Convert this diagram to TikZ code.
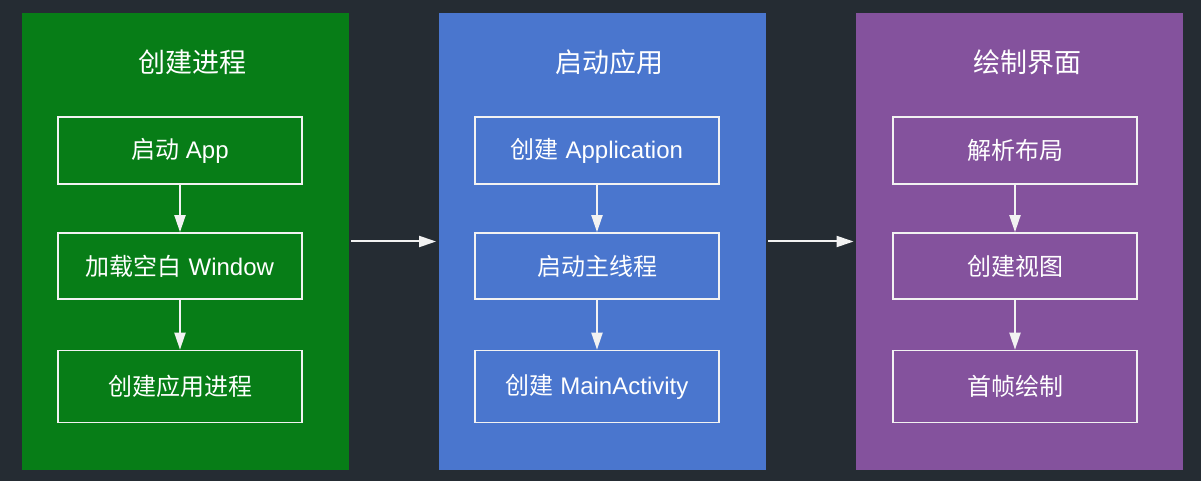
\documentclass[tikz,border=0pt]{standalone}
\usepackage{fontspec}
\setmainfont{Liberation Sans}
\newfontfamily\cjk{Noto Sans CJK SC}
\usetikzlibrary{arrows.meta,positioning}
\definecolor{boot_bg}{HTML}{252C33}
\definecolor{boot_green}{HTML}{077D17}
\definecolor{boot_blue}{HTML}{4A76CE}
\definecolor{boot_purple}{HTML}{84529D}
\definecolor{boot_line}{HTML}{F2F2F2}
\tikzset{
  panel/.style={minimum width=163.5pt, minimum height=228.5pt, inner sep=0pt},
  title/.style={text=white, font=\fontsize{13.5}{16}\selectfont},
  stepbox/.style={draw=boot_line, line width=0.8pt, minimum width=122pt,
                  inner sep=0pt, text=white, font=\fontsize{12}{14}\selectfont},
  flow/.style={-{Triangle[width=5.5pt,length=8.5pt]}, draw=boot_line, line width=1pt}
}
\begin{document}
\begin{tikzpicture}[x=0.5pt, y=-0.5pt]
        \fill[boot_bg] (0,0) rectangle (1201,481);
        \useasboundingbox (0,0) rectangle (1201,481);
        % three stages
        \node[panel, fill=boot_green] (create) at (185,241.5) {};
        \node[panel, fill=boot_blue] (launch) at (602,241.5) {};
        \node[panel, fill=boot_purple] (render) at (1019.5,241.5) {};
        \node[title] (createT) at (192,62) {\cjk 创建进程};
        \node[title] (launchT) at (609,62) {\cjk 启动应用};
        \node[title] (renderT) at (1027,62) {\cjk 绘制界面};
        % create process
        \node[stepbox, minimum height=33.5pt] (app) at (180,150.5) {{\cjk 启动} App};
        \node[stepbox, minimum height=33pt] (window) at (180,266) {{\cjk 加载空白} Window};
        \node[stepbox, minimum height=36pt] (proc) at (180,386.5) {\cjk 创建应用进程};
        % launch application
        \node[stepbox, minimum height=33.5pt] (application) at (597,150.5) {{\cjk 创建} Application};
        \node[stepbox, minimum height=33pt] (mainthread) at (597,266) {\cjk 启动主线程};
        \node[stepbox, minimum height=36pt] (activity) at (597,386.5) {{\cjk 创建} MainActivity};
        % draw ui
        \node[stepbox, minimum height=33.5pt] (layout) at (1015,150.5) {\cjk 解析布局};
        \node[stepbox, minimum height=33pt] (views) at (1015,266) {\cjk 创建视图};
        \node[stepbox, minimum height=36pt] (frame) at (1015,386.5) {\cjk 首帧绘制};
        \draw[flow] (app) -- (window);
        \draw[flow] (window) -- (proc);
        \draw[flow] (application) -- (mainthread);
        \draw[flow] (mainthread) -- (activity);
        \draw[flow] (layout) -- (views);
        \draw[flow] (views) -- (frame);
        \draw[flow, shorten <=1pt, shorten >=1pt] (create) -- (launch);
        \draw[flow, shorten <=1pt, shorten >=1pt] (launch) -- (render);
      \end{tikzpicture}
\end{document}
